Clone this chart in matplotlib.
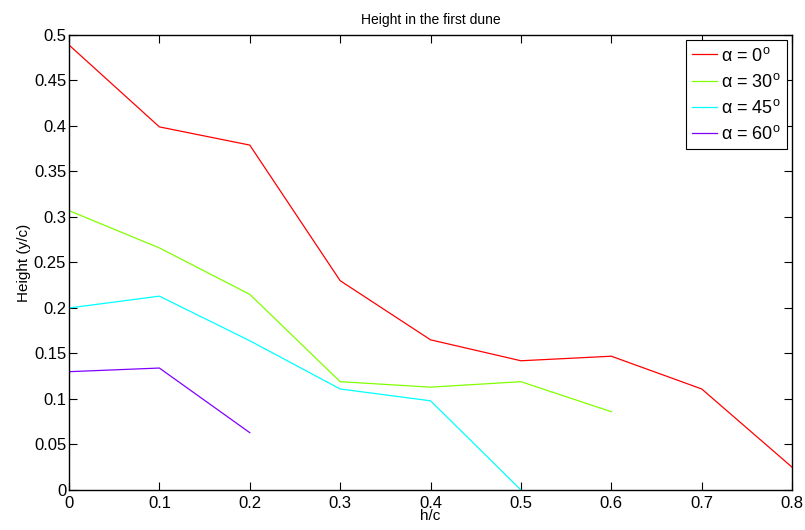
import numpy as np
import matplotlib.pyplot as plt

plt.rcParams['font.family'] = ['Liberation Sans', 'DejaVu Sans']

# h/c values and dune heights for each angle
x = [0, 0.1, 0.2, 0.3, 0.4, 0.5, 0.6, 0.7, 0.8]
h_0 = [0.489, 0.399, 0.379, 0.230, 0.165, 0.142, 0.147, 0.111, 0.025]
h_30 = [0.307, 0.266, 0.215, 0.119, 0.113, 0.119, 0.086]
h_45 = [0.200, 0.213, 0.164, 0.111, 0.098, 0.0]
h_60 = [0.130, 0.134, 0.063]
angles = [0, 30, 45, 60]
colors = ['#ff0000', '#80ff00', '#00ffff', '#8000ff']

fig = plt.figure(figsize=(8.05, 5.3), dpi=100)
ax = fig.add_axes([0.0857, 0.0755, 0.8983, 0.8585])

for h, a, c in zip([h_0, h_30, h_45, h_60], angles, colors):
    ax.plot(x[:len(h)], h, color=c, linewidth=0.9,
            label=r'α = %d$^{\mathregular{o}}$' % a)

ax.set_xlim(0, 0.8)
ax.set_ylim(0, 0.5)
ax.set_xticks(np.arange(0, 0.81, 0.1))
ax.set_yticks(np.arange(0, 0.51, 0.05))
ax.set_xticklabels(['0', '0.1', '0.2', '0.3', '0.4', '0.5', '0.6', '0.7', '0.8'])
ax.set_yticklabels(['0', '0.05', '0.1', '0.15', '0.2', '0.25', '0.3', '0.35',
                    '0.4', '0.45', '0.5'])
ax.tick_params(direction='in', top=True, right=True, labelsize=12, length=6)
ax.tick_params(axis='x', pad=4)
ax.tick_params(axis='y', pad=2)
for s in ax.spines.values():
    s.set_linewidth(1.0)

ax.set_title('Height in the first dune', fontsize=10, pad=8)
ax.set_xlabel('h/c', fontsize=11, labelpad=-1)
ax.set_ylabel('Height (y/c)', fontsize=11, labelpad=2)

leg = ax.legend(loc='upper right', fontsize=13, fancybox=False, framealpha=1,
                edgecolor='black', handlelength=1.4, borderaxespad=0.3,
                labelspacing=0.45, handletextpad=0.2, borderpad=0.35)
leg.get_frame().set_linewidth(0.8)

fig.savefig('out.png', dpi=100)
